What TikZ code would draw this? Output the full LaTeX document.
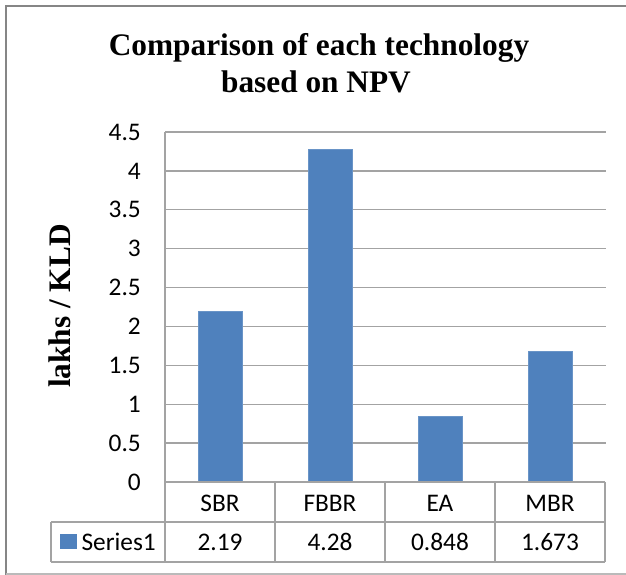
\documentclass[tikz,border=0pt]{standalone}
\usepackage{fontspec}
\setmainfont{Liberation Serif}
\newfontfamily\calibrifont{Carlito}
\usetikzlibrary{positioning}
\definecolor{barblue}{HTML}{4F81BD}
\definecolor{gridgray}{HTML}{A3A3A3}
\definecolor{framegray}{HTML}{868686}

\begin{document}
\begin{tikzpicture}[x=0.75pt,y=-0.75pt,
  gridline/.style={draw=gridgray, line width=1pt},
  ticklabel/.style={anchor=east, inner sep=0pt, font=\calibrifont\fontsize{19}{22}\selectfont},
  cell/.style={inner sep=0pt, font=\calibrifont\fontsize{19}{22}\selectfont},
  titletext/.style={anchor=base, inner sep=0pt, font=\bfseries\fontsize{23.5}{28}\selectfont},
  barbox/.style={fill=barblue, draw=barblue!85!white, line width=0.6pt}]

\useasboundingbox (0,0) rectangle (626,575);
\fill[white] (0,0) rectangle (626,575);

% outer frame
\draw[framegray, line width=1.5pt] (6,575) -- (6,6) -- (626,6);
\draw[gridgray!75, line width=1pt] (6,574) -- (626,574);

% title and axis label
\node[titletext] (title1) at (319,55) {Comparison of each technology};
\node[titletext] (title2) at (316,92) {based on NPV};
\node[titletext, rotate=90] (ylabel) at (70,306) {lakhs / KLD};

% grid and tick labels
\foreach \v in {0.5,1,...,4.5}
  \draw[gridline] (165,{482-\v*77.78}) -- (606,{482-\v*77.78});
\foreach \v in {0,0.5,1,1.5,2,2.5,3,3.5,4,4.5}
  \node[ticklabel] (tick\v) at (141,{482-\v*77.78}) {\v};

% bars
\foreach \i/\val in {0/2.19,1/4.28,2/0.848,3/1.673}
  \draw[barbox] ({198+110*\i},482) rectangle ({242+110*\i},{482-\val*77.78});

% data table
\draw[gridline] (165,132) -- (165,562);
\draw[gridline] (165,482) -- (605,482);
\draw[gridline] (51,522) -- (605,522);
\draw[gridline] (51,562) -- (605,562);
\draw[gridline] (51,522) -- (51,562);
\foreach \x in {275,385,495,605}
  \draw[gridline] (\x,482) -- (\x,562);

\foreach \i/\cat/\val in {0/SBR/2.19,1/FBBR/4.28,2/EA/0.848,3/MBR/1.673} {
  \node[cell] (cat\i) at ({220+110*\i},503) {\cat};
  \node[cell] (val\i) at ({220+110*\i},542) {\val};
}

\node[fill=barblue, inner sep=0pt, minimum width=12.75pt, minimum height=11.25pt] (legendkey) at (68.5,541.5) {};
\node[cell, right=3pt of legendkey] (legendtext) {Series1};
\end{tikzpicture}
\end{document}
